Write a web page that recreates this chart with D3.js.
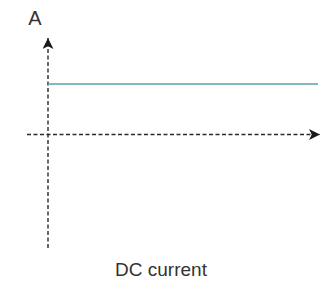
<!DOCTYPE html>
<html><head><meta charset="utf-8">
<script src="https://cdn.jsdelivr.net/npm/d3@7"></script>
<style>html,body{margin:0;padding:0;background:#fff;}svg{display:block;}</style>
</head><body>
<script>
const timePoints = [0, 1, 2, 3, 4, 5, 6, 7, 8, 9, 10];
const currentValues = [1, 1, 1, 1, 1, 1, 1, 1, 1, 1, 1];
const yAxisLabel = "A";
const chartTitle = "DC current";

const W = 320, H = 281;
const svg = d3.select("body").append("svg").attr("width", W).attr("height", H);

const x = d3.scaleLinear().domain([0, 10]).range([48, 318]);
const y = d3.scaleLinear().domain([0, 1]).range([134.5, 84]);

const defs = svg.append("defs");
defs.append("marker").attr("id", "arr").attr("viewBox", "0 0 10 10")
  .attr("refX", 10).attr("refY", 5).attr("markerWidth", 11).attr("markerHeight", 11)
  .attr("markerUnits", "userSpaceOnUse").attr("orient", "auto")
  .append("path").attr("d", "M0,0 L10,5 L0,10 L2.5,5 Z").attr("fill", "#1a1a1a");

// horizontal axis
svg.append("line").attr("x1", 27).attr("x2", 320).attr("y1", y(0)).attr("y2", y(0))
  .attr("stroke", "#2a2a2a").attr("stroke-width", 1.4).attr("stroke-dasharray", "4,2.5")
  .attr("marker-end", "url(#arr)");
// vertical axis
svg.append("line").attr("x1", x(0)).attr("x2", x(0)).attr("y1", 248).attr("y2", 38)
  .attr("stroke", "#2a2a2a").attr("stroke-width", 1.4).attr("stroke-dasharray", "4,2.5")
  .attr("marker-end", "url(#arr)");

const data = timePoints.map((t, i) => ({t, v: currentValues[i]}));
svg.append("path").datum(data)
  .attr("d", d3.line().x(d => x(d.t)).y(d => y(d.v)))
  .attr("fill", "none").attr("stroke", "#5aa3ad").attr("stroke-width", 1.6);

svg.append("text").attr("x", 35).attr("y", 25).attr("text-anchor", "middle")
  .attr("font-family", "Liberation Sans, Arial, sans-serif").attr("font-size", 20)
  .attr("fill", "#333").text(yAxisLabel);

svg.append("text").attr("x", 161).attr("y", 276).attr("text-anchor", "middle")
  .attr("font-family", "Liberation Sans, Arial, sans-serif").attr("font-size", 19)
  .attr("fill", "#333").text(chartTitle);
</script>
</body></html>
